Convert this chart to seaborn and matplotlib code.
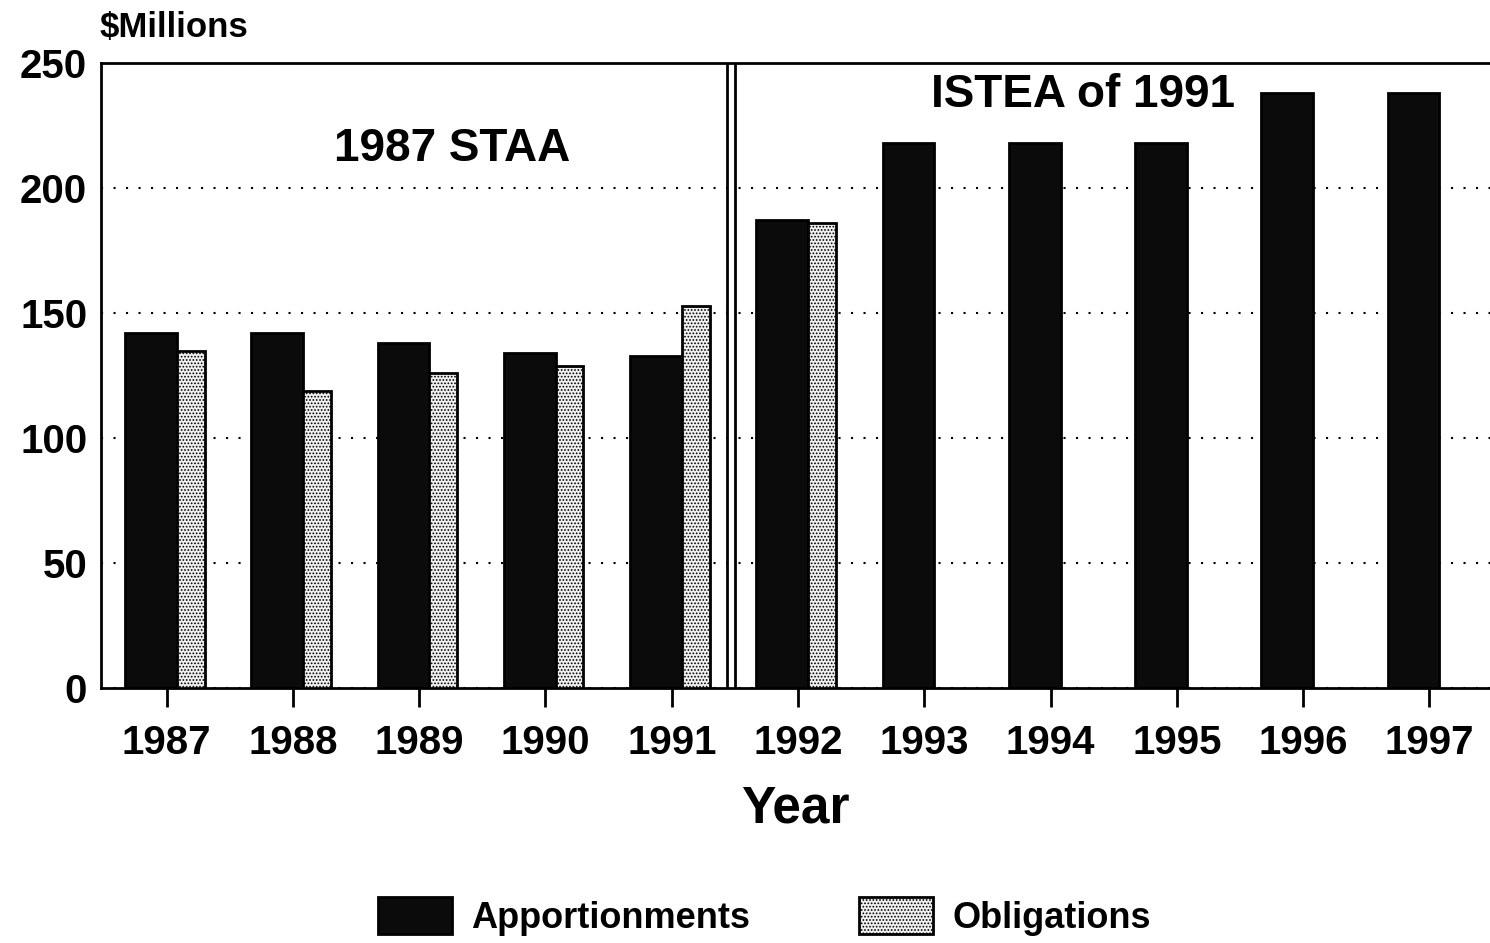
import matplotlib
matplotlib.use('Agg')
import matplotlib.pyplot as plt
import pandas as pd
import seaborn as sns

# --------------------------
# Data
# --------------------------
years = [1987, 1988, 1989, 1990, 1991, 1992, 1993, 1994, 1995, 1996, 1997]
apportionments = [142, 142, 138, 134, 133, 187, 218, 218, 218, 238, 238]
obligation_years = [1987, 1988, 1989, 1990, 1991, 1992]
obligations = [135, 119, 126, 129, 153, 186]
series_names = ['Apportionments', 'Obligations']
period_labels = ['1987 STAA', 'ISTEA of 1991']

df = pd.concat([
    pd.DataFrame({'Year': years, 'Amount': apportionments, 'Series': series_names[0]}),
    pd.DataFrame({'Year': obligation_years, 'Amount': obligations, 'Series': series_names[1]}),
], ignore_index=True)
df['Year'] = df['Year'].astype(str)

# --------------------------
# Style
# --------------------------
sns.set_theme(style='white')
plt.rcParams['font.family'] = ['Liberation Sans', 'DejaVu Sans']
plt.rcParams['font.weight'] = 'bold'
plt.rcParams['hatch.linewidth'] = 0.8
for key in ['text.color', 'axes.labelcolor', 'xtick.color', 'ytick.color']:
    plt.rcParams[key] = 'black'

fig = plt.figure(figsize=(14.9, 9.43), dpi=100)
ax = fig.add_axes([0.0678, 0.2704, 0.9322, 0.6628])

sns.barplot(data=df, x='Year', y='Amount', hue='Series',
            order=[str(y) for y in years], hue_order=series_names,
            palette={'Apportionments': '#0b0b0b', 'Obligations': '#f0f0f0'},
            edgecolor='black', linewidth=2, errorbar=None,
            legend=False, zorder=3, ax=ax)

# apportionment bars are wider than obligation bars in the original
for bar in ax.containers[0]:
    c = round(bar.get_x() + bar.get_width() / 2)
    bar.set_x(c - 0.33)
    bar.set_width(0.41)
for bar in ax.containers[1]:
    c = round(bar.get_x() + bar.get_width() / 2)
    bar.set_x(c + 0.08)
    bar.set_width(0.22)
    bar.set_hatch('.....')
    if hasattr(bar, 'set_hatchcolor'):
        bar.set_hatchcolor('#a5a5a5')

# double line separating the two acts
ax.axvline(4.44, color='black', lw=2, zorder=4)
ax.axvline(4.50, color='black', lw=2, zorder=4)

ax.text(2.26, 215.6, period_labels[0], ha='center', va='center', fontsize=33, fontweight='bold')
ax.text(7.26, 237, period_labels[1], ha='center', va='center', fontsize=33, fontweight='bold')

ax.set_xlim(-0.52, 10.48)
ax.set_ylim(0, 250)
ax.set_yticks(range(0, 251, 50))
ax.yaxis.grid(True, linestyle=(0, (1, 5)), color='black', linewidth=1.5)
ax.set_axisbelow(True)

for side in ['top', 'left', 'bottom']:
    ax.spines[side].set_linewidth(2)
    ax.spines[side].set_color('black')
ax.spines['right'].set_visible(False)

ax.tick_params(axis='x', bottom=True, direction='out', length=14, width=2,
               pad=12, labelsize=29, color='black')
ax.tick_params(axis='y', left=False, length=0, pad=10, labelsize=29)
ax.set_xlabel('Year', fontsize=37, fontweight='bold', labelpad=16)
ax.set_ylabel('')

fig.text(0.067, 0.971, '$Millions', ha='left', va='center', fontsize=25, fontweight='bold')

fig.legend(handles=[ax.containers[0], ax.containers[1]], labels=series_names,
           loc='center', bbox_to_anchor=(0.513, 0.028), ncol=2, frameon=False,
           fontsize=26, handlelength=2.05, handleheight=1.17,
           handletextpad=0.55, columnspacing=3.0)

fig.savefig('out.png', dpi=100)
